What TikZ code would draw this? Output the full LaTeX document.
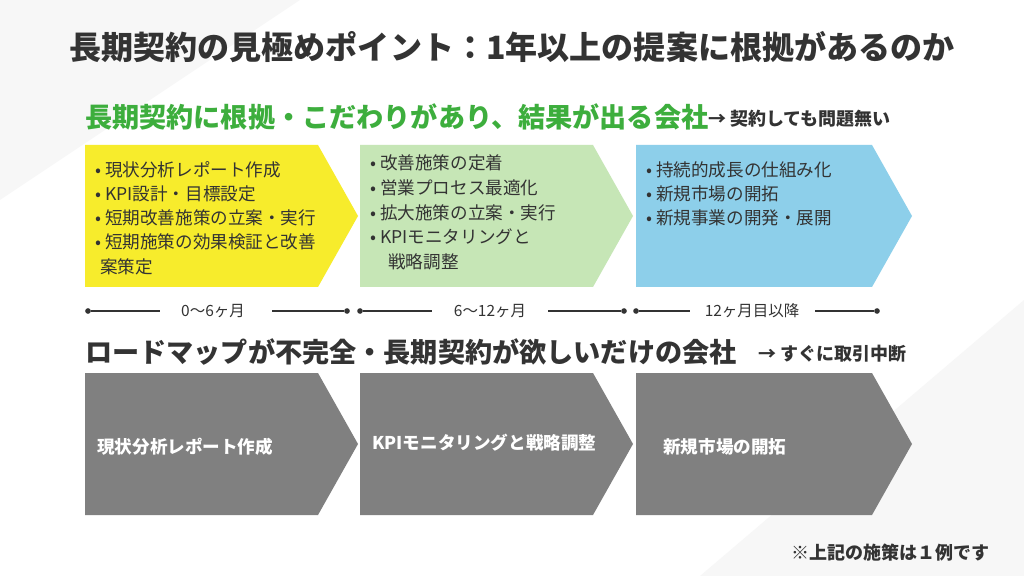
\documentclass[tikz,border=0pt]{standalone}
\usepackage{fontspec}
\setmainfont{Noto Sans CJK JP}
\usetikzlibrary{positioning,calc}
\definecolor{cyellow}{HTML}{F7EC2C}
\definecolor{cgreen}{HTML}{C6E6B6}
\definecolor{cblue}{HTML}{8DCFEA}
\definecolor{cgray}{HTML}{808080}
\definecolor{cgreentxt}{HTML}{3DAE3D}
\definecolor{ctxt}{HTML}{333333}
\tikzset{
  chev/.style={draw=none},
  head/.style={font=\fontsize{19.3}{22}\selectfont\bfseries, anchor=west, inner sep=0pt},
  note/.style={font=\fontsize{12.8}{15}\selectfont\bfseries, anchor=west, inner sep=0pt, text=ctxt},
  item/.style={font=\fontsize{12.5}{15}\selectfont, anchor=west, inner sep=0pt, text=ctxt},
  period/.style={font=\fontsize{11}{13}\selectfont, inner sep=0pt, text=ctxt},
  gtext/.style={font=\fontsize{12.5}{15}\selectfont\bfseries, anchor=west, inner sep=0pt, text=white},
  tl/.style={line width=1.2pt, ctxt},
  dot/.style={circle, fill=ctxt, inner sep=0pt, minimum size=4pt}
}
\newcommand{\chevron}[5]{% x0, x1, ytop, ybot, color
  \fill[#5] (#1,#3) -- ({#2-40},#3) -- (#2,{(#3+#4)/2}) -- ({#2-40},#4) -- (#1,#4) -- cycle;}
\begin{document}
\begin{tikzpicture}[x=0.025cm, y=-0.025cm]
  \useasboundingbox (0,0) rectangle (1024,576);
  \fill[white] (0,0) rectangle (1024,576);
  \fill[black!3] (0,0) -- (300,0) -- (0,200) -- cycle;
  \fill[black!3] (1024,300) -- (1024,576) -- (700,576) -- cycle;

  % title
  \node[font=\fontsize{22.8}{26}\selectfont\bfseries, text=ctxt] (title) at (512,47) {長期契約の見極めポイント：1年以上の提案に根拠があるのか};

  % good case
  \node[head, text=cgreentxt] (good) at (85,117) {長期契約に根拠・こだわりがあり、結果が出る会社};
  \node[note] (goodnote) at (708,119) {→ 契約しても問題無い};

  \chevron{85}{358}{145}{287}{cyellow}
  \chevron{360}{633}{145}{287}{cgreen}
  \chevron{636}{912}{145}{287}{cblue}

  \foreach \y/\t in {170/現状分析レポート作成, 194/KPI設計・目標設定, 218/短期改善施策の立案・実行, 242/短期施策の効果検証と改善}
    \node[item] at (95,\y) {•\ \t};
  \node[item] (y5) at (100,267) {案策定};
  \foreach \y/\t in {163/改善施策の定着, 188/営業プロセス最適化, 213/拡大施策の立案・実行, 237/KPIモニタリングと}
    \node[item] at (370,\y) {•\ \t};
  \node[item] (g5) at (388,262) {戦略調整};
  \foreach \y/\t in {170/持続的成長の仕組み化, 194/新規市場の開拓, 218/新規事業の開発・展開}
    \node[item] at (646,\y) {•\ \t};

  % timeline
  \foreach \a/\b/\c/\d/\e/\t/\n in {88/160/272/347/213/0〜6ヶ月/p1, 360/432/548/624/490/6〜12ヶ月/p2, 636/690/815/877/752/12ヶ月目以降/p3} {
    \node[dot] (\n a) at (\a,311) {};
    \node[dot] (\n b) at (\d,311) {};
    \coordinate (\n l) at (\b,311);
    \coordinate (\n r) at (\c,311);
    \node[period] (\n) at (\e,311) {\t};
    \draw[tl] (\n a) -- (\n l);
    \draw[tl] (\n r) -- (\n b);
  }

  % bad case
  \node[head, text=ctxt] (bad) at (85,352) {ロードマップが不完全・長期契約が欲しいだけの会社};
  \node[note] (badnote) at (758,354) {→ すぐに取引中断};

  \chevron{85}{358}{373}{515}{cgray}
  \chevron{360}{633}{373}{515}{cgray}
  \chevron{636}{912}{373}{515}{cgray}
  \node[gtext] (b1) at (97,447) {現状分析レポート作成};
  \node[gtext] (b2) at (372,443) {KPIモニタリングと戦略調整};
  \node[gtext] (b3) at (663,447) {新規市場の開拓};

  \node[note, anchor=east] (foot) at (990,553) {※上記の施策は１例です};
\end{tikzpicture}
\end{document}
